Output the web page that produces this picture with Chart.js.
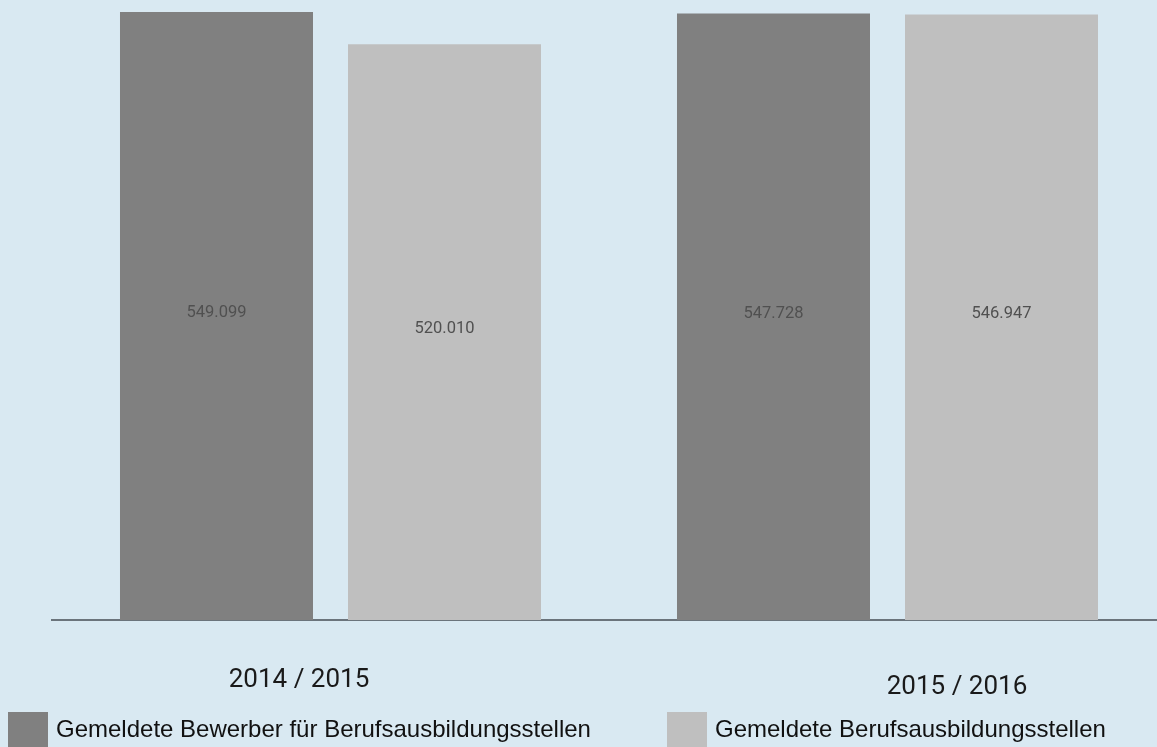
<!DOCTYPE html>
<html>
<head>
<meta charset="utf-8">
<script src="https://cdn.jsdelivr.net/npm/chart.js@4.4.1/dist/chart.umd.min.js"></script>
<style>
  html, body { margin: 0; padding: 0; background: #d9e9f2; overflow: hidden; }
  #wrap { position: relative; width: 1157px; height: 747px; background: #d9e9f2; overflow: hidden; }
  #chart { position: absolute; left: 0; top: 0; }
  #legend { position: absolute; left: 8px; top: 712px; display: flex; align-items: flex-start;
            font-family: "Liberation Sans", Arial, sans-serif; font-size: 24px; color: #111; }
  .item { display: flex; align-items: flex-start; margin-right: 76px; white-space: nowrap; }
  .box { width: 40px; height: 40px; margin-right: 8px; }
  .txt { line-height: 33px; }
</style>
</head>
<body>
<div id="wrap">
  <canvas id="chart" width="1166" height="747"></canvas>
  <div id="legend"></div>
</div>
<script>
const categories = ["2014 / 2015", "2015 / 2016"];
const seriesNames = ["Gemeldete Bewerber für Berufsausbildungsstellen", "Gemeldete Berufsausbildungsstellen"];
const bewerber = [549099, 547728];
const stellen = [520010, 546947];
const colors = ["#808080", "#bfbfbf"];

function fmt(v) {
  return v.toLocaleString("de-DE");
}

const valueLabels = {
  id: "valueLabels",
  afterDatasetsDraw(chart) {
    const ctx = chart.ctx;
    ctx.save();
    ctx.font = "16.5px Roboto";
    ctx.fillStyle = "#505050";
    ctx.textAlign = "center";
    ctx.textBaseline = "middle";
    chart.data.datasets.forEach((ds, di) => {
      chart.getDatasetMeta(di).data.forEach((bar, i) => {
        const y = (bar.y + bar.base) / 2 - 3;
        ctx.fillText(fmt(ds.data[i]), bar.x, y);
      });
    });
    ctx.restore();
  }
};

const categoryLabels = {
  id: "categoryLabels",
  afterDraw(chart, args, opts) {
    const ctx = chart.ctx;
    const xs = chart.scales.x;
    ctx.save();
    ctx.font = "26px Roboto";
    ctx.fillStyle = "#1a1a1a";
    ctx.textAlign = "center";
    ctx.textBaseline = "middle";
    chart.data.labels.forEach((lab, i) => {
      const off = opts.offsets[i] || {dx: 0, dy: 0};
      ctx.fillText(lab, xs.getPixelForValue(i) + off.dx, chart.chartArea.bottom + opts.gap + off.dy);
    });
    ctx.restore();
  }
};

const chart = new Chart(document.getElementById("chart"), {
  type: "bar",
  data: {
    labels: categories,
    datasets: [
      { label: seriesNames[0], data: bewerber, backgroundColor: colors[0] },
      { label: seriesNames[1], data: stellen, backgroundColor: colors[1] }
    ]
  },
  options: {
    responsive: false,
    devicePixelRatio: 1,
    animation: false,
    categoryPercentage: 0.8187,
    barPercentage: 0.8465,
    layout: { padding: { left: 52, right: 0, top: 12, bottom: 127 } },
    plugins: {
      legend: { display: false },
      tooltip: { enabled: false },
      categoryLabels: { gap: 60, offsets: [{dx: -31.5, dy: 0}, {dx: 69.5, dy: 7}] }
    },
    scales: {
      x: {
        z: 1,
        grid: { display: false, drawTicks: false },
        ticks: { display: false },
        border: { display: true, color: "#6b747c", width: 2 }
      },
      y: {
        display: false,
        min: 0,
        max: Math.max(...bewerber, ...stellen)
      }
    }
  },
  plugins: [valueLabels, categoryLabels]
});

const legend = document.getElementById("legend");
chart.data.datasets.forEach(ds => {
  const item = document.createElement("div");
  item.className = "item";
  const box = document.createElement("div");
  box.className = "box";
  box.style.background = ds.backgroundColor;
  const txt = document.createElement("span");
  txt.className = "txt";
  txt.textContent = ds.label;
  item.appendChild(box);
  item.appendChild(txt);
  legend.appendChild(item);
});
</script>
</body>
</html>
